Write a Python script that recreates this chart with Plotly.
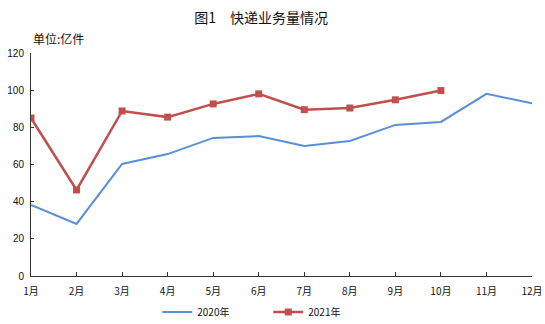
import plotly.graph_objects as go

months = ["1月", "2月", "3月", "4月", "5月", "6月", "7月", "8月", "9月", "10月", "11月", "12月"]
v2020 = [38.2, 28.0, 60.3, 65.6, 74.3, 75.3, 70.0, 72.7, 81.3, 82.9, 98.0, 93.0]
v2021 = [85.0, 46.3, 88.8, 85.5, 92.6, 98.0, 89.5, 90.4, 94.8, 99.8]
yticks = [0, 20, 40, 60, 80, 100, 120]

cjk = "Noto Sans CJK SC"

fig = go.Figure()
fig.add_trace(go.Scatter(x=months, y=v2020, mode="lines", name="2020年",
                         line=dict(color="#5A8FD6", width=2)))
fig.add_trace(go.Scatter(x=months[:len(v2021)], y=v2021, mode="lines+markers", name="2021年",
                         line=dict(color="#C0504D", width=2.5),
                         marker=dict(symbol="square", size=7, color="#C0504D")))

fig.update_layout(
    width=545, height=324,
    margin=dict(l=31, r=13, t=53, b=48, autoexpand=False),
    paper_bgcolor="white", plot_bgcolor="white",
    font=dict(family=cjk, size=10, color="#111"),
    title=dict(text="图1　快递业务量情况", x=0.479, xanchor="center", y=0.945, yanchor="middle",
               font=dict(family=cjk, size=14, color="#111")),
    showlegend=True,
    legend=dict(orientation="h", x=0.252, xanchor="left", y=-0.161, yanchor="middle",
                font=dict(family=cjk, size=10, color="#111"), itemwidth=30,
                entrywidth=66, tracegroupgap=0, bgcolor="rgba(0,0,0,0)"),
    xaxis=dict(type="category", categoryorder="array", categoryarray=months,
               range=[0, 11], showgrid=False, showline=True, linecolor="#333", linewidth=1,
               ticks="inside", ticklen=4, tickcolor="#333", automargin=False,
               ticklabelstandoff=6, tickfont=dict(family=cjk, size=10)),
    yaxis=dict(range=[0, 120], tickvals=yticks, showgrid=False, showline=True,
               linecolor="#333", linewidth=1, ticks="inside", ticklen=3, tickcolor="#333",
               automargin=False, ticklabelstandoff=4,
               tickfont=dict(family="Liberation Sans", size=10), zeroline=False),
    annotations=[dict(text="单位:亿件", xref="paper", yref="paper", x=0.0, y=1.063,
                      xanchor="left", yanchor="middle", showarrow=False,
                      font=dict(family=cjk, size=12, color="#111"))],
)

fig.write_html("out.html", config={"displayModeBar": False},
               post_script="document.body.style.margin='0';")
